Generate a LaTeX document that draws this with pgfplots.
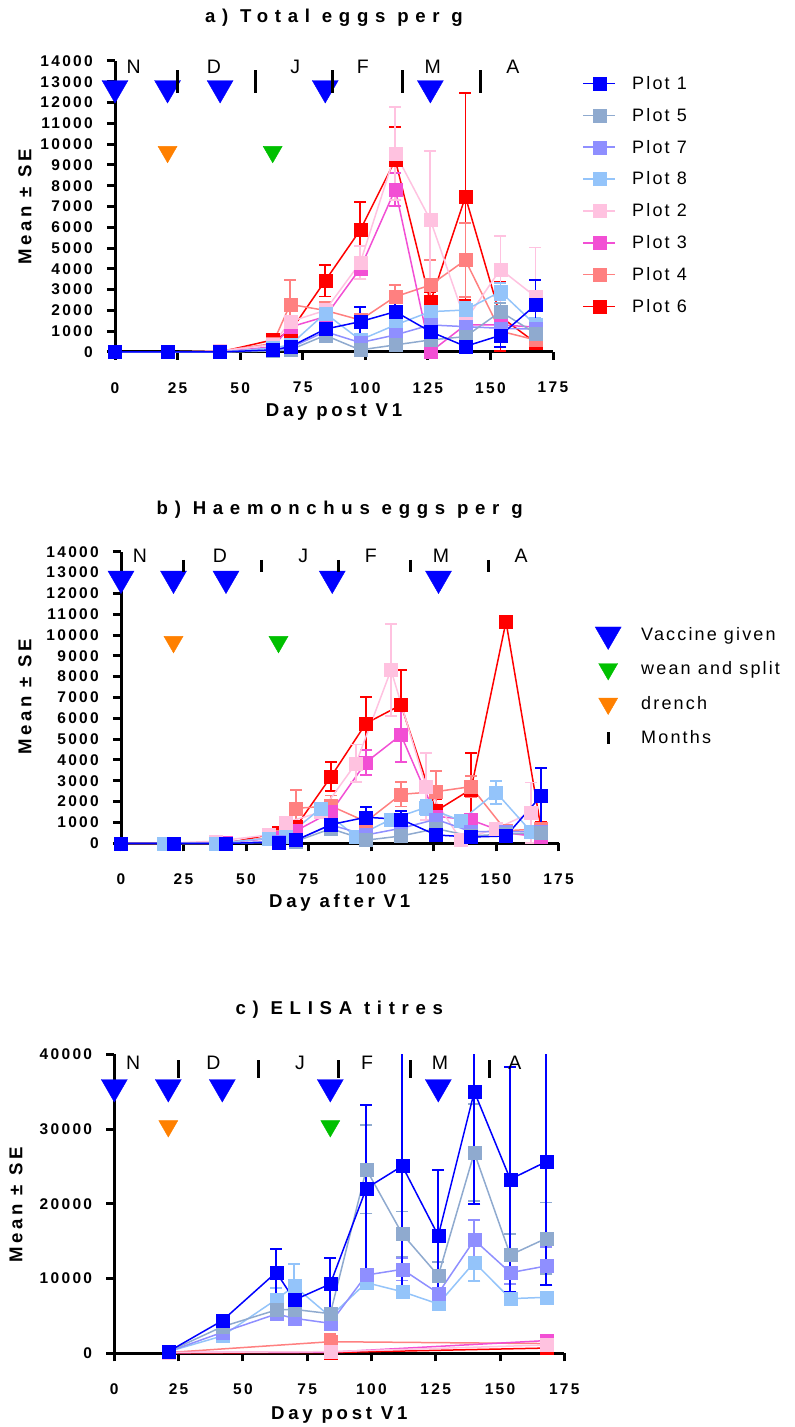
\documentclass[border=0pt]{standalone}
\usepackage{fontspec}
\setmainfont{Liberation Sans}
\newfontfamily\bsp[LetterSpace=15]{Liberation Sans}
\newfontfamily\asp[LetterSpace=20]{Liberation Sans}
\newfontfamily\tsp[LetterSpace=36]{Liberation Sans}
\newfontfamily\lsp[LetterSpace=12]{Liberation Sans}
\usepackage{pgfplots}
\pgfplotsset{compat=1.18}
\newcommand\fTick{\bsp\bfseries\fontsize{15.5}{16}\selectfont}
\newcommand\fLab{\asp\bfseries\fontsize{18.6}{19}\selectfont}
\newcommand\fTitle{\tsp\bfseries\fontsize{18.6}{19}\selectfont}
\newcommand\fLeg{\lsp\fontsize{18}{18}\selectfont}
\newcommand\fMon{\fontsize{19.5}{20}\selectfont}
\definecolor{cP1}{HTML}{0000FF}
\definecolor{cP5}{HTML}{8FAACF}
\definecolor{cP7}{HTML}{8F8FFF}
\definecolor{cP8}{HTML}{94C4FA}
\definecolor{cP2}{HTML}{FFC2E0}
\definecolor{cP3}{HTML}{F24FD4}
\definecolor{cP4}{HTML}{FF8080}
\definecolor{cP6}{HTML}{FF0000}
\definecolor{cGr}{HTML}{00C000}
\definecolor{cOr}{HTML}{FF8000}
\pgfplotsset{
  gp/.style={
    scale only axis, anchor=south west,
    axis x line*=bottom, axis y line*=left,
    axis line style={line width=3pt,-},
    tick style={line width=3pt, black},
    tick align=outside, major tick length=8pt,
    xmin=0, xmax=175, xtick={0,25,...,175},
    x tick label style={font=\fTick, anchor=north, inner sep=0pt, yshift=-22pt},
    y tick label style={font=\fTick, anchor=east, inner sep=0pt, xshift=-14pt},
    /pgf/number format/assume math mode=true,
    /pgf/number format/1000 sep={},
    scaled y ticks=false,
    legend cell align=left,
  },
  ser/.style={color=#1, mark=square*, mark size=6.5pt, line width=1.5pt,
    mark options={solid, line width=0.4pt, fill=#1, draw=#1},
    /pgfplots/error bars/y dir=both, /pgfplots/error bars/y explicit,
    /pgfplots/error bars/error bar style={line width=1.8pt, color=#1},
    /pgfplots/error bars/error mark options={rotate=90, mark size=6pt, line width=1.8pt, color=#1}},
  vacc/.style={only marks, mark=triangle*, mark size=15pt, color=cP1,
    mark options={rotate=180, draw=none, fill=cP1}},
  orng/.style={only marks, mark=triangle*, mark size=11pt, color=cOr,
    mark options={rotate=180, draw=none, fill=cOr}},
  grn/.style={only marks, mark=triangle*, mark size=11pt, color=cGr,
    mark options={rotate=180, draw=none, fill=cGr}},
  mon/.style={only marks, mark=|, mark size=#1, color=black, mark options={line width=3pt}},
}
\begin{document}
\begin{tikzpicture}
\path[use as bounding box] (0pt,0pt) rectangle (795pt,1427pt);
% ================= Panel a =================
\begin{axis}[gp, clip=false, at={(115pt,1075pt)}, width=438pt, height=291pt,
  ymin=0, ymax=14000, ytick={0,1000,...,14000},
  reverse legend,
  legend style={at={(axis description cs:1.0685,0.955)}, anchor=north west, draw=none, fill=none,
    font=\fLeg, inner sep=0pt, row sep=13.3pt, column sep=15pt},
  legend image code/.code={\path[draw=none,fill=none,use as bounding box] (0pt,-4pt) rectangle (32pt,8pt);
    \draw[mark repeat=2,mark phase=2,#1] plot coordinates {(0pt,0pt) (16pt,0pt) (32pt,0pt)};},
]
\addplot[vacc, forget plot] coordinates {(0,12700) (21,12700) (42,12700) (84,12700) (126,12700)};
\addplot[orng, forget plot] coordinates {(21,9630)};
\addplot[grn, forget plot] coordinates {(63,9630)};
\addplot[mon=11.5pt, forget plot] coordinates {(25,13000) (56,13000) (87,13000) (115,13000) (146,13000)};
\node[font=\fMon] at (axis cs:7.5,13700) {N};
\node[font=\fMon] at (axis cs:39.5,13700) {D};
\node[font=\fMon] at (axis cs:72,13700) {J};
\node[font=\fMon] at (axis cs:99,13700) {F};
\node[font=\fMon] at (axis cs:127,13700) {M};
\node[font=\fMon] at (axis cs:159,13700) {A};
\addplot[ser=cP6] table[x=x,y=y,y error=e,row sep=\\]{x y e\\ 0 0 0\\ 21 0 0\\ 42 0 0\\ 63 580 100\\ 70 980 300\\ 84 3430 760\\ 98 5870 1350\\ 112 9240 1600\\ 126 2400 500\\ 140 7470 4980\\ 154 1700 1650\\ 168 450 300\\};
\addlegendentry{Plot 6}
\addplot[ser=cP4] table[x=x,y=y,y error=e,row sep=\\]{x y e\\ 0 0 0\\ 21 0 0\\ 42 50 0\\ 63 400 100\\ 70 2290 1170\\ 84 2000 420\\ 98 1540 300\\ 112 2660 560\\ 126 3220 1200\\ 140 4420 1780\\ 154 1000 300\\ 168 580 200\\};
\addlegendentry{Plot 4}
\addplot[ser=cP3] table[x=x,y=y,y error=e,row sep=\\]{x y e\\ 0 0 0\\ 21 0 0\\ 42 0 0\\ 63 250 50\\ 70 1200 200\\ 84 1700 300\\ 98 4020 500\\ 112 7830 800\\ 126 0 0\\ 140 1300 200\\ 154 1300 200\\ 168 1200 200\\};
\addlegendentry{Plot 3}
\addplot[ser=cP2] table[x=x,y=y,y error=e,row sep=\\]{x y e\\ 0 0 0\\ 21 0 0\\ 42 50 50\\ 63 350 100\\ 70 1460 300\\ 84 2000 300\\ 98 4300 800\\ 112 9560 2240\\ 126 6350 3330\\ 140 1500 500\\ 154 3980 1600\\ 168 2660 2370\\};
\addlegendentry{Plot 2}
\addplot[ser=cP8] table[x=x,y=y,y error=e,row sep=\\]{x y e\\ 0 0 0\\ 21 0 0\\ 42 0 0\\ 63 190 50\\ 70 340 100\\ 84 1860 400\\ 98 580 150\\ 112 1300 300\\ 126 1940 350\\ 140 2020 400\\ 154 2900 400\\ 168 1300 350\\};
\addlegendentry{Plot 8}
\addplot[ser=cP7] table[x=x,y=y,y error=e,row sep=\\]{x y e\\ 0 0 0\\ 21 0 0\\ 42 0 0\\ 63 80 50\\ 70 200 100\\ 84 980 150\\ 98 450 100\\ 112 820 150\\ 126 1300 150\\ 140 1220 150\\ 154 1140 150\\ 168 1100 150\\};
\addlegendentry{Plot 7}
\addplot[ser=cP5] table[x=x,y=y,y error=e,row sep=\\]{x y e\\ 0 0 0\\ 21 0 0\\ 42 0 0\\ 63 50 50\\ 70 100 50\\ 84 800 150\\ 98 100 100\\ 112 340 100\\ 126 580 150\\ 140 740 150\\ 154 1940 400\\ 168 900 150\\};
\addlegendentry{Plot 5}
\addplot[ser=cP1] table[x=x,y=y,y error=e,row sep=\\]{x y e\\ 0 0 0\\ 21 0 0\\ 42 0 0\\ 63 100 50\\ 70 250 100\\ 84 1100 250\\ 98 1460 720\\ 112 1940 650\\ 126 980 300\\ 140 270 100\\ 154 800 550\\ 168 2260 1200\\};
\addlegendentry{Plot 1}
\end{axis}
% ================= Panel b =================
\begin{axis}[gp, clip=false, at={(121pt,583.7pt)}, width=437.5pt, height=291.6pt,
  ymin=0, ymax=14000, ytick={0,1000,...,14000},
  legend style={at={(axis description cs:1.0834,0.7486)}, anchor=north west, draw=none, fill=none,
    font=\fLeg, inner sep=0pt, row sep=16pt, column sep=18pt},
  legend image code/.code={\path[draw=none,fill=none,use as bounding box] (0pt,-4pt) rectangle (26pt,8pt);
    \draw[mark repeat=2,mark phase=2,#1] plot coordinates {(0pt,0pt) (13pt,0pt) (26pt,0pt)};},
]
\addplot[vacc] coordinates {(0,12710) (21,12710) (42,12710) (84.5,12710) (127,12710)};
\addlegendentry{Vaccine given}
\addplot[grn] coordinates {(63,9670)};
\addlegendentry{wean and split}
\addplot[orng] coordinates {(21,9670)};
\addlegendentry{drench}
\addplot[mon=6pt] coordinates {(25,13320) (56,13320) (87,13320) (115.6,13320) (147,13320)};
\addlegendentry{Months}
\node[font=\fMon] at (axis cs:7.6,13790) {N};
\node[font=\fMon] at (axis cs:39.6,13790) {D};
\node[font=\fMon] at (axis cs:72.9,13790) {J};
\node[font=\fMon] at (axis cs:99.9,13790) {F};
\node[font=\fMon] at (axis cs:128,13790) {M};
\node[font=\fMon] at (axis cs:160,13790) {A};
\addplot[forget plot, ser=cP6] table[x=x,y=y,y error=e,row sep=\\]{x y e\\ 0 0 0\\ 21 0 0\\ 42 0 0\\ 63 500 100\\ 70 800 200\\ 84 3200 700\\ 98 5760 1280\\ 112 6640 1680\\ 126 1550 550\\ 140 2590 1730\\ 154 10640 0\\ 168 720 300\\};
\addplot[forget plot, ser=cP4] table[x=x,y=y,y error=e,row sep=\\]{x y e\\ 0 0 0\\ 21 0 0\\ 42 50 0\\ 63 300 100\\ 70 1680 880\\ 84 1790 500\\ 98 1040 300\\ 112 2350 580\\ 126 2480 1000\\ 140 2720 500\\ 154 600 100\\ 168 700 100\\};
\addplot[forget plot, ser=cP3] table[x=x,y=y,y error=e,row sep=\\]{x y e\\ 0 0 0\\ 21 0 0\\ 42 50 0\\ 63 250 50\\ 70 600 100\\ 84 1500 300\\ 98 3890 600\\ 112 5200 1300\\ 126 1300 300\\ 140 1120 200\\ 154 500 100\\ 168 300 100\\};
\addplot[forget plot, ser=cP2] table[x=x,y=y,y error=e,row sep=\\]{x y e\\ 17 0 0\\ 38 100 50\\ 59 400 100\\ 66 1000 200\\ 80 1500 300\\ 94 3840 900\\ 108 8320 2200\\ 122 2720 1600\\ 136 160 100\\ 150 700 300\\ 164 1470 1450\\};
\addplot[forget plot, ser=cP8] table[x=x,y=y,y error=e,row sep=\\]{x y e\\ 17 0 0\\ 38 0 0\\ 59 240 50\\ 66 320 100\\ 80 1680 200\\ 94 320 150\\ 108 1150 150\\ 122 1720 350\\ 136 1090 200\\ 150 2450 550\\ 164 560 200\\};
\addplot[forget plot, ser=cP7] table[x=x,y=y,y error=e,row sep=\\]{x y e\\ 0 0 0\\ 21 0 0\\ 42 0 0\\ 63 100 50\\ 70 150 50\\ 84 880 150\\ 98 400 100\\ 112 720 150\\ 126 1150 200\\ 140 560 100\\ 154 560 100\\ 168 560 100\\};
\addplot[forget plot, ser=cP5] table[x=x,y=y,y error=e,row sep=\\]{x y e\\ 0 0 0\\ 21 0 0\\ 42 0 0\\ 63 50 50\\ 70 100 50\\ 84 700 150\\ 98 150 100\\ 112 350 100\\ 126 700 150\\ 140 350 100\\ 154 450 100\\ 168 500 100\\};
\addplot[forget plot, ser=cP1] table[x=x,y=y,y error=e,row sep=\\]{x y e\\ 0 0 0\\ 21 0 0\\ 42 0 0\\ 63 50 50\\ 70 150 50\\ 84 900 300\\ 98 1250 500\\ 112 1150 400\\ 126 400 150\\ 140 300 100\\ 154 350 100\\ 168 2270 1330\\};
\end{axis}
% ================= Panel c =================
\begin{axis}[gp, at={(114.3pt,73.7pt)}, width=450pt, height=299pt,
  ymin=0, ymax=40000, ytick={0,10000,...,40000}]
\addplot[ser=cP6] table[x=x,y=y,y error=e,row sep=\\]{x y e\\ 21 50 0\\ 84 100 0\\ 168 700 0\\};
\addplot[ser=cP4] table[x=x,y=y,y error=e,row sep=\\]{x y e\\ 21 100 0\\ 84 1550 1000\\ 168 1300 300\\};
\addplot[ser=cP3] table[x=x,y=y,y error=e,row sep=\\]{x y e\\ 21 100 0\\ 84 150 0\\ 168 1700 200\\};
\addplot[ser=cP2] table[x=x,y=y,y error=e,row sep=\\]{x y e\\ 21 100 0\\ 84 220 0\\ 168 1110 0\\};
\addplot[ser=cP8] table[x=x,y=y,y error=e,row sep=\\]{x y e\\ 21 220 0\\ 42 2320 200\\ 63 7200 1500\\ 70 9000 2970\\ 84 4900 400\\ 98 9450 500\\ 112 8240 400\\ 126 6600 300\\ 140 12170 2500\\ 154 7310 300\\ 168 7490 300\\};
\addplot[ser=cP7] table[x=x,y=y,y error=e,row sep=\\]{x y e\\ 21 220 0\\ 42 2800 200\\ 63 5260 300\\ 70 4680 300\\ 84 4010 300\\ 98 10470 800\\ 112 11230 1500\\ 126 8030 600\\ 140 15160 2700\\ 154 10790 1500\\ 168 11680 2500\\};
\addplot[ser=cP5] table[x=x,y=y,y error=e,row sep=\\]{x y e\\ 21 220 0\\ 42 3560 200\\ 63 5800 400\\ 70 5870 400\\ 84 5300 500\\ 98 24610 5900\\ 112 15960 3000\\ 126 10390 1850\\ 140 26840 6500\\ 154 13150 2800\\ 168 15380 4800\\};
\addplot[ser=cP1] table[x=x,y=y,y error=e,row sep=\\]{x y e\\ 21 220 0\\ 42 4370 300\\ 63 10840 3060\\ 70 7130 500\\ 84 9270 3500\\ 98 22070 11150\\ 112 25060 16160\\ 126 15740 8780\\ 140 35000 15000\\ 154 23280 15000\\ 168 25640 16500\\};
\end{axis}
\begin{axis}[scale only axis, anchor=south west, hide axis, clip=false, at={(114.3pt,73.7pt)}, width=450pt, height=299pt,
  xmin=0, xmax=175, ymin=0, ymax=40000]
\addplot[vacc] coordinates {(0,35620) (21,35620) (42,35620) (84,35620) (126,35620)};
\addplot[orng] coordinates {(21,30400)};
\addplot[grn] coordinates {(84,30400)};
\addplot[mon=9pt] coordinates {(25,38000) (56,38000) (87,38000) (115,38000) (146,38000)};
\node[font=\fMon] at (axis cs:7.3,38800) {N};
\node[font=\fMon] at (axis cs:38.5,38800) {D};
\node[font=\fMon] at (axis cs:72.2,38800) {J};
\node[font=\fMon] at (axis cs:98.3,38800) {F};
\node[font=\fMon] at (axis cs:126.7,38800) {M};
\node[font=\fMon] at (axis cs:155.8,38800) {A};
\end{axis}
% ================= Texts =================
\node[font=\fTitle] at (334pt,1409pt) {a) Total eggs per g};
\node[font=\fTitle] at (339.7pt,917pt) {b) Haemonchus eggs per g};
\node[font=\fTitle] at (339.3pt,417pt) {c) ELISA titres};
\node[font=\fLab, rotate=90] at (25pt,1220pt) {Mean ± SE};
\node[font=\fLab, rotate=90] at (25pt,730pt) {Mean ± SE};
\node[font=\fLab, rotate=90] at (16pt,222pt) {Mean ± SE};
\node[font=\fLab] at (334pt,1015pt) {Day post V1};
\node[font=\fLab] at (339.7pt,524pt) {Day after V1};
\node[font=\fLab] at (339.3pt,12pt) {Day post V1};
\end{tikzpicture}
\end{document}
